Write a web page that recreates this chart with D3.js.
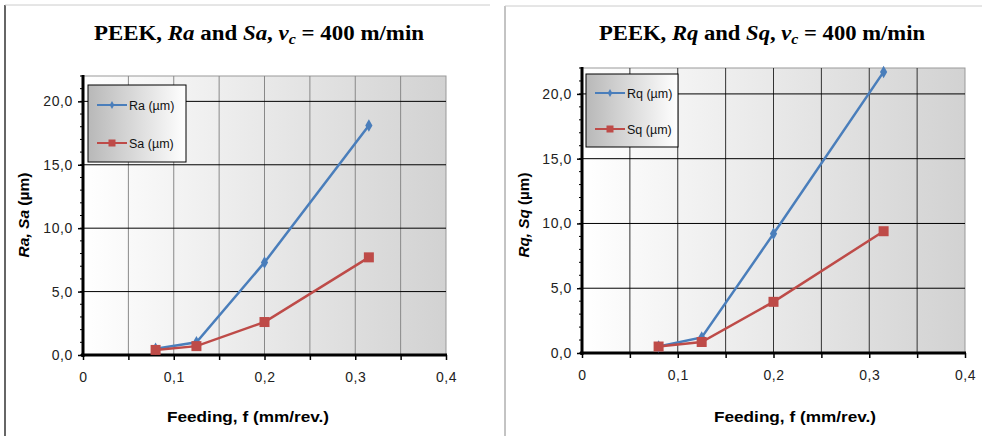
<!DOCTYPE html>
<html lang="en">
  <head>
    <meta charset="utf-8" />
    <title>PEEK roughness</title>
    <style>
      body { margin: 0; background: #fff; }
      svg text { font-family: "Liberation Sans", Arial, sans-serif; }
      .title { font-family: "Liberation Serif", "Times New Roman", serif !important; font-weight: bold; font-size: 20px; }
    </style>
  </head>
  <body>
    <div id="vis"></div>
    <script src="https://d3js.org/d3.v7.min.js"></script>
    <script>
      // feeding values (mm/rev.)
      const feeding = [0.08, 0.125, 0.2, 0.315];
      // left chart
      const ra = [0.5, 1.0, 7.3, 18.1];
      const sa = [0.4, 0.7, 2.6, 7.7];
      // right chart
      const rq = [0.5, 1.2, 9.2, 21.7];
      const sq = [0.5, 0.85, 3.95, 9.4];
      const xTicks = [0, 0.1, 0.2, 0.3, 0.4];
      const yTicks = [0, 5, 10, 15, 20];

      const blue = "#4a7ebb", red = "#be4b48";
      const fmtX = d => d === 0 ? "0" : d3.format(".1f")(d).replace(".", ",");
      const fmtY = d => d3.format(".1f")(d).replace(".", ",");

      const svg = d3.select("#vis").append("svg").attr("width", 982).attr("height", 436);

      const defs = svg.append("defs");
      const bg = defs.append("linearGradient").attr("id", "bg");
      bg.append("stop").attr("offset", "0%").attr("stop-color", "#ffffff");
      bg.append("stop").attr("offset", "15%").attr("stop-color", "#f8f8f8");
      bg.append("stop").attr("offset", "100%").attr("stop-color", "#d2d2d2");
      const lg = defs.append("linearGradient").attr("id", "lg");
      lg.append("stop").attr("offset", "0%").attr("stop-color", "#b8b8b8");
      lg.append("stop").attr("offset", "100%").attr("stop-color", "#ffffff");

      // frame lines
      svg.append("line").attr("x1", 5).attr("x2", 5).attr("y1", 5).attr("y2", 436).attr("stroke", "#333").attr("stroke-width", 1.5);
      svg.append("line").attr("x1", 5).attr("x2", 490).attr("y1", 5).attr("y2", 5).attr("stroke", "#ccc");
      svg.append("line").attr("x1", 505).attr("x2", 505).attr("y1", 6).attr("y2", 436).attr("stroke", "#888");
      svg.append("line").attr("x1", 505).attr("x2", 982).attr("y1", 6).attr("y2", 6).attr("stroke", "#ccc");

      function panel(o) {
        const x = d3.scaleLinear().domain([0, 0.4]).range([o.left, o.right]);
        const y = d3.scaleLinear().domain([0, 22]).range([o.bottom, o.top]);
        const g = svg.append("g");

        g.append("rect").attr("x", o.left).attr("y", o.top)
          .attr("width", o.right - o.left).attr("height", o.bottom - o.top)
          .attr("fill", "url(#bg)").attr("stroke", "#999");

        // grid
        g.append("g").selectAll("line").data(d3.range(1, 8).map(i => i * 0.05)).join("line")
          .attr("x1", d => x(d)).attr("x2", d => x(d)).attr("y1", o.top).attr("y2", o.bottom)
          .attr("stroke", o.vgrid).attr("stroke-width", 1);
        g.append("g").selectAll("line").data(yTicks.slice(1)).join("line")
          .attr("x1", o.left).attr("x2", o.right).attr("y1", d => y(d)).attr("y2", d => y(d))
          .attr("stroke", "#000").attr("stroke-width", 1);

        // y axis
        const ya = g.append("g").attr("transform", `translate(${o.left},0)`)
          .call(d3.axisLeft(y).tickValues(yTicks).tickFormat(fmtY).tickSize(5).tickPadding(5));
        ya.select(".domain").remove();
        ya.selectAll("line").attr("stroke-width", 1.5);
        ya.selectAll("text").attr("font-size", 14).attr("letter-spacing", 0.6).attr("fill", "#222");
        g.append("g").selectAll("line").data(d3.range(0, 23)).join("line")
          .attr("x1", o.left - 3).attr("x2", o.left).attr("y1", d => y(d)).attr("y2", d => y(d))
          .attr("stroke", "#000");
        g.append("line").attr("x1", o.left).attr("x2", o.left).attr("y1", o.top - 1).attr("y2", o.bottom + 2)
          .attr("stroke", "#000").attr("stroke-width", 3);

        // x axis
        const xa = g.append("g").attr("transform", `translate(0,${o.bottom})`)
          .call(d3.axisBottom(x).tickValues(d3.range(0, 9).map(i => i * 0.05)).tickSize(5).tickPadding(12)
            .tickFormat(d => xTicks.some(t => Math.abs(t - d) < 1e-9) ? fmtX(d) : ""));
        xa.select(".domain").remove();
        xa.selectAll("line").attr("stroke-width", 1.5);
        xa.selectAll("text").attr("font-size", 14).attr("letter-spacing", 0.6).attr("fill", "#222");
        g.append("line").attr("x1", o.left - 2).attr("x2", o.right + 1).attr("y1", o.bottom).attr("y2", o.bottom)
          .attr("stroke", "#000").attr("stroke-width", 3);

        // series
        const line = d3.line().x((d, i) => x(feeding[i])).y(d => y(d));
        g.append("path").datum(o.s1).attr("d", line).attr("fill", "none").attr("stroke", blue).attr("stroke-width", 2.5);
        g.append("path").datum(o.s2).attr("d", line).attr("fill", "none").attr("stroke", red).attr("stroke-width", 2.5);
        g.append("g").selectAll("path").data(o.s1).join("path")
          .attr("d", d3.symbol(d3.symbolDiamond, 45))
          .attr("transform", (d, i) => `translate(${x(feeding[i])},${y(d)})`).attr("fill", blue);
        g.append("g").selectAll("rect").data(o.s2).join("rect")
          .attr("x", (d, i) => x(feeding[i]) - 5).attr("y", d => y(d) - 5)
          .attr("width", 10).attr("height", 10).attr("fill", red);

        // legend
        const L = o.legend;
        g.append("rect").attr("x", L.x).attr("y", L.y).attr("width", L.w).attr("height", L.h)
          .attr("fill", "url(#lg)").attr("stroke", "#000");
        [[o.n1, blue, "d"], [o.n2, red, "s"]].forEach(([name, c, m], i) => {
          const ly = L.y + L.r[i];
          g.append("line").attr("x1", L.x + 9).attr("x2", L.x + 39).attr("y1", ly).attr("y2", ly)
            .attr("stroke", c).attr("stroke-width", 2);
          if (m === "d") {
            g.append("path").attr("d", d3.symbol(d3.symbolDiamond, 18))
              .attr("transform", `translate(${L.x + 24},${ly})`).attr("fill", c);
          } else {
            g.append("rect").attr("x", L.x + 20.5).attr("y", ly - 3.5).attr("width", 7).attr("height", 7).attr("fill", c);
          }
          g.append("text").attr("x", L.x + 41).attr("y", ly + 4.5).attr("font-size", 12.5).attr("fill", "#111").text(name);
        });

        // titles
        const t = g.append("text").attr("class", "title").attr("x", o.tx).attr("y", 40).attr("text-anchor", "middle")
          .attr("textLength", o.tw).attr("lengthAdjust", "spacingAndGlyphs");
        t.append("tspan").text("PEEK, ");
        t.append("tspan").attr("font-style", "italic").text(o.a);
        t.append("tspan").text(" and ");
        t.append("tspan").attr("font-style", "italic").text(o.b);
        t.append("tspan").text(", ");
        t.append("tspan").attr("font-style", "italic").text("v");
        t.append("tspan").attr("font-style", "italic").attr("font-size", 14).attr("dy", 4).text("c");
        t.append("tspan").attr("dy", -4).text(" = 400 m/min");

        const yl = g.append("text").attr("transform", `translate(${o.ylx},215) rotate(-90)`)
          .attr("text-anchor", "middle").attr("font-size", 15).attr("font-weight", "bold")
          .attr("textLength", 85).attr("lengthAdjust", "spacingAndGlyphs");
        yl.append("tspan").attr("font-style", "italic").text(o.a + ", " + o.b);
        yl.append("tspan").text(" (µm)");

        g.append("text").attr("x", o.xlx).attr("y", 422).attr("text-anchor", "middle")
          .attr("font-size", 15).attr("font-weight", "bold")
          .attr("textLength", 162).attr("lengthAdjust", "spacingAndGlyphs").text("Feeding, f (mm/rev.)");
      }

      panel({
        left: 83, right: 446, top: 76, bottom: 355, vgrid: "#888",
        s1: ra, s2: sa, n1: "Ra (µm)", n2: "Sa (µm)", a: "Ra", b: "Sa",
        legend: { x: 88, y: 85, w: 98, h: 77, r: [20, 58] },
        tx: 259, tw: 330, ylx: 29, xlx: 248
      });
      panel({
        left: 582, right: 965, top: 68, bottom: 353, vgrid: "#333",
        s1: rq, s2: sq, n1: "Rq (µm)", n2: "Sq (µm)", a: "Rq", b: "Sq",
        legend: { x: 586, y: 74, w: 92, h: 73, r: [19, 55] },
        tx: 762, tw: 326, ylx: 529, xlx: 795
      });
    </script>
  </body>
</html>
